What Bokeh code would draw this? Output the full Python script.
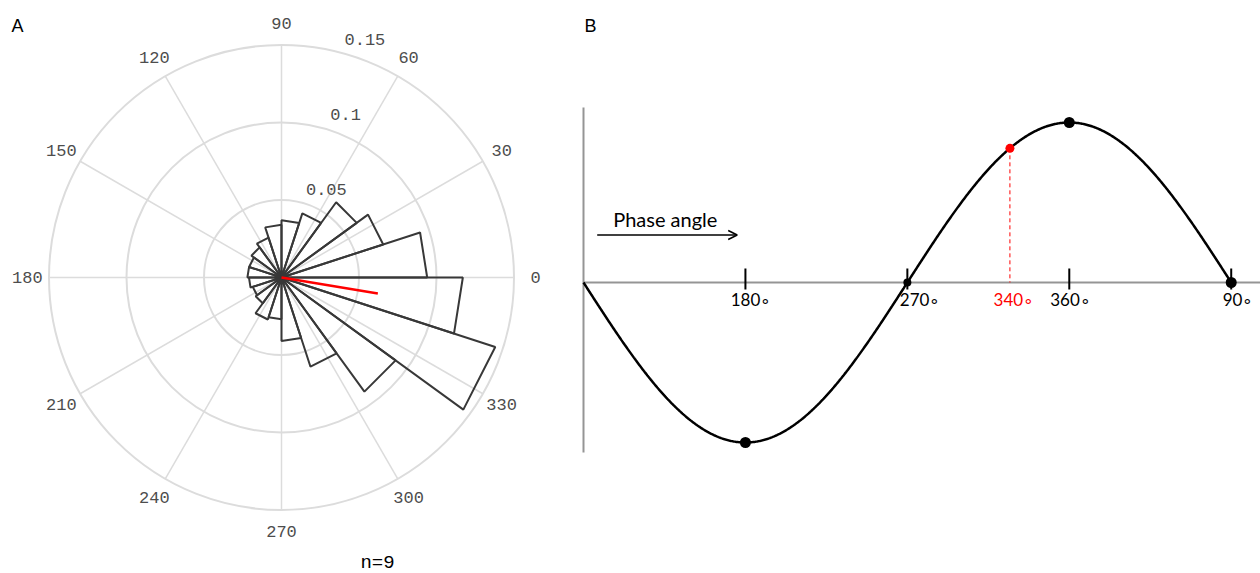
import numpy as np
from bokeh.plotting import figure
from bokeh.layouts import row
from bokeh.models import Label, Arrow, OpenHead, Range1d
from bokeh.embed import file_html
from bokeh.resources import INLINE
from bokeh.core.properties import value

# ---------------- Panel A data (rose histogram) ----------------
bin_width_deg = 18
bin_density = [0.094, 0.069, 0.060, 0.0435, 0.037, 0.034, 0.027, 0.024, 0.022, 0.022,
               0.021, 0.0195, 0.0206, 0.0285, 0.027, 0.041, 0.0605, 0.091, 0.145, 0.117]
ring_values = [0.05, 0.10, 0.15]
ring_labels = ["0.05", "0.1", "0.15"]
angle_ticks = [0, 30, 60, 90, 120, 150, 180, 210, 240, 270, 300, 330]
angle_labels = [str(a) for a in angle_ticks]
mean_angle_deg = 350.6
mean_length = 0.063
n_label = "n=9"

# ---------------- Panel B data (phase schematic) ----------------
phase_ticks = [180, 270, 360, 450]
phase_tick_labels = ["180\u2218", "270\u2218", "360\u2218", "90\u2218"]
key_phases = [180, 270, 360, 450]
key_sizes = [11, 8, 11, 11]
marker_phase = 327
marker_label = "340\u2218"
curve_phase = np.linspace(90, 450, 721)

H = 573

# ================= Panel A =================
S = 1550.0           # px per density unit
WA, HA = 578, H
cx, cy = 281, 277    # pole position inside figure (px)
pA = figure(width=WA, height=HA,
            x_range=Range1d(-cx / S, (WA - cx) / S),
            y_range=Range1d(-(HA - cy) / S, cy / S),
            output_backend="svg", toolbar_location=None,
            x_axis_location=None, y_axis_location=None, min_border=0)
pA.xgrid.visible = False
pA.ygrid.visible = False
pA.outline_line_color = None

grid_col = "#dcdcdc"
rmax = ring_values[-1]
ang = np.deg2rad(angle_ticks)
pA.segment(x0=0, y0=0, x1=list(rmax * np.cos(ang)), y1=list(rmax * np.sin(ang)),
           line_color=grid_col, line_width=1.5)
pA.circle(x=0, y=0, radius=ring_values, fill_color=None, line_color=grid_col, line_width=2)

edges = np.deg2rad(np.arange(len(bin_density) + 1) * bin_width_deg)
xs = [[0, r * np.cos(edges[i]), r * np.cos(edges[i + 1])] for i, r in enumerate(bin_density)]
ys = [[0, r * np.sin(edges[i]), r * np.sin(edges[i + 1])] for i, r in enumerate(bin_density)]
pA.patches(xs=xs, ys=ys, fill_color=None, line_color="#383838", line_width=2)

ma = np.deg2rad(mean_angle_deg)
pA.segment(x0=0, y0=0, x1=mean_length * np.cos(ma), y1=mean_length * np.sin(ma),
           line_color="#ff0000", line_width=2.5)

r_lab = 0.164
pA.text(x=list(r_lab * np.cos(ang)), y=list(r_lab * np.sin(ang)), text=angle_labels,
        text_align="center", text_baseline="middle",
        text_font=value("Liberation Mono"), text_font_size="17px", text_color="#4d4d4d")

rl_ang = np.deg2rad(75.6)
pA.text(x=[v * np.cos(rl_ang) for v in ring_values], y=[v * np.sin(rl_ang) for v in ring_values],
        text=ring_labels, x_offset=25.6, y_offset=-12.6,
        text_align="center", text_baseline="middle",
        text_font=value("Liberation Mono"), text_font_size="17px", text_color="#4d4d4d")

pA.add_layout(Label(x=377, y=H - 562, x_units="screen", y_units="screen", text=n_label,
                    text_align="center", text_baseline="middle",
                    text_font="Liberation Mono", text_font_size="19px", text_color="#000000"))
pA.add_layout(Label(x=11, y=H - 25, x_units="screen", y_units="screen", text="A",
                    text_align="left", text_baseline="middle",
                    text_font="Liberation Sans", text_font_size="18px", text_color="#000000"))

# ================= Panel B =================
WB, HB = 1260 - WA, H
PX = 1.7992          # px per degree of phase
xs0 = 90 - 5 / PX
AMP = 160.0          # px per amplitude unit
ay = 282             # axis position from top (px)
pB = figure(width=WB, height=HB,
            x_range=Range1d(xs0, xs0 + WB / PX),
            y_range=Range1d(-(HB - ay) / AMP, ay / AMP),
            output_backend="svg", toolbar_location=None,
            x_axis_location=None, y_axis_location=None, min_border=0)
pB.xgrid.visible = False
pB.ygrid.visible = False
pB.outline_line_color = None

axis_col = "#959595"
pB.segment(x0=90, y0=175 / AMP, x1=90, y1=-170 / AMP, line_color=axis_col, line_width=2)
pB.segment(x0=90, y0=0, x1=xs0 + WB / PX, y1=0, line_color=axis_col, line_width=2)

pB.segment(x0=phase_ticks, y0=14 / AMP, x1=phase_ticks, y1=-7 / AMP,
           line_color="#000000", line_width=2)

curve_val = np.cos(np.deg2rad(curve_phase))
pB.line(curve_phase, curve_val, line_color="#000000", line_width=2.5)

key_val = list(np.cos(np.deg2rad(key_phases)))
pB.scatter(x=key_phases, y=key_val, size=key_sizes, fill_color="#000000", line_color=None)

mval = float(np.cos(np.deg2rad(marker_phase)))
pB.segment(x0=marker_phase, y0=mval, x1=marker_phase, y1=0,
           line_color="#ff0000", line_width=1, line_dash="4 3")
pB.scatter(x=[marker_phase], y=[mval], size=9, fill_color="#ff0000", line_color=None)

pB.text(x=phase_ticks, y=[0] * len(phase_ticks), text=phase_tick_labels,
        x_offset=[5.6, 12.8, 1.2, 6.8], y_offset=17,
        text_align="center", text_baseline="middle",
        text_font=value("Lato"), text_font_size="17px", text_color="#000000")
pB.text(x=[marker_phase], y=[0], text=[marker_label], x_offset=4, y_offset=17,
        text_align="center", text_baseline="middle",
        text_font=value("Lato"), text_font_size="17px", text_color="#ff0000")

pB.text(x=[xs0 + 34.7 / PX], y=[64 / AMP], text=["Phase angle"],
        text_align="left", text_baseline="middle",
        text_font=value("Lato"), text_font_size="20px", text_color="#000000")
pB.add_layout(Arrow(end=OpenHead(size=9, line_width=1.5, line_color="#000000"),
                    x_start=xs0 + 18.7 / PX, y_start=47.5 / AMP,
                    x_end=xs0 + 158.7 / PX, y_end=47.5 / AMP,
                    line_width=1.5, line_color="#000000"))

pB.add_layout(Label(x=6, y=H - 25, x_units="screen", y_units="screen", text="B",
                    text_align="left", text_baseline="middle",
                    text_font="Liberation Sans", text_font_size="18px", text_color="#000000"))

layout = row(pA, pB)
open("out.html", "w").write(file_html(layout, INLINE))
